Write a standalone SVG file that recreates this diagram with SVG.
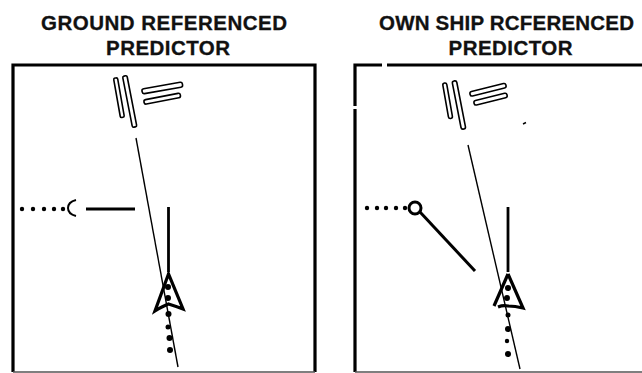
<svg xmlns="http://www.w3.org/2000/svg" width="642" height="373" viewBox="0 0 642 373">
<style>
text{font-family:"Liberation Sans",Arial,sans-serif;font-weight:bold;font-size:20.5px;fill:#111;stroke:#111;stroke-width:.3;text-anchor:middle}
.frame{fill:none;stroke:#000;stroke-width:3.2}
.bar{fill:#fff;stroke:#000;stroke-width:1.6}
.thin{fill:none;stroke:#000;stroke-width:1.4}
.thick{fill:none;stroke:#000;stroke-width:2.8}
.tri{fill:none;stroke:#000;stroke-width:3.2;stroke-linejoin:miter}
.bottom{fill:none;stroke:#555;stroke-width:1.5}
circle.d{fill:#000}
</style>
<rect width="642" height="373" fill="#fff"/>
<g id="ground-panel">
<text x="164" y="30" textLength="246" lengthAdjust="spacing">GROUND REFERENCED</text>
<text x="168" y="55" textLength="124" lengthAdjust="spacing">PREDICTOR</text>
<path class="frame" d="M13 372V65H315V372"/>
<path class="bottom" d="M13 372H315"/>
<rect class="bar" x="-2" y="0" width="4" height="40" rx="1.500" transform="translate(115.500 78) rotate(-10)"/>
<rect class="bar" x="-2" y="0" width="4.500" height="52" rx="1.500" transform="translate(124.500 76) rotate(-11)"/>
<rect class="bar" x="0" y="-2" width="41" height="5" rx="2" transform="translate(142 91) rotate(-10)"/>
<rect class="bar" x="0" y="-2" width="37" height="4.500" rx="2" transform="translate(144 102) rotate(-11)"/>
<path class="thick" d="M168.500 207V272"/>
<path class="tri" d="M168.500 274L155 311Q163 306 168.500 304Q175 306 183 309Z"/>
<circle class="d" cx="22" cy="209" r="2.200"/><circle class="d" cx="33" cy="209" r="2.200"/><circle class="d" cx="44" cy="209" r="2.200"/><circle class="d" cx="54" cy="209" r="2.200"/><circle class="d" cx="63" cy="209" r="2.200"/>
<circle class="d" cx="168" cy="287" r="3"/><circle class="d" cx="168" cy="298" r="3"/><circle class="d" cx="168.500" cy="314" r="3"/><circle class="d" cx="168" cy="327" r="2.500"/><circle class="d" cx="169.500" cy="338" r="3"/><circle class="d" cx="170" cy="350" r="3"/>
<path class="thin" style="stroke-width:2" d="M76 200Q68 202 68 208Q68 214 76 216"/>
</g>
<g id="ownship-panel">
<text x="506.500" y="30" textLength="255" lengthAdjust="spacing">OWN SHIP RCFERENCED</text>
<text x="510.500" y="55" textLength="124" lengthAdjust="spacing">PREDICTOR</text>
<path class="frame" d="M355 372V109M355 106V65H382M387 65H642"/>
<path class="bottom" d="M355 372H642"/>
<rect class="bar" x="-2" y="0" width="4" height="36" rx="2" transform="translate(444.500 83) rotate(-10)"/>
<rect class="bar" x="-2" y="0" width="4.500" height="49" rx="2" transform="translate(454 81) rotate(-11)"/>
<rect class="bar" x="0" y="-2" width="37" height="4.500" rx="2" transform="translate(470 94) rotate(-14)"/>
<rect class="bar" x="0" y="-2" width="34" height="4.500" rx="2" transform="translate(474 103) rotate(-14)"/>
<path d="M523 124L526 122.500" stroke="#000" stroke-width="1.500"/>
<path class="thick" d="M508 207V272"/>
<path class="tri" d="M508 274L494 306M498 307Q503 305 508 306Q515 306 523 308L508 274"/>
<circle cx="415" cy="208" r="6" fill="none" stroke="#000" stroke-width="3"/>
<circle class="d" cx="367" cy="208" r="2.200"/><circle class="d" cx="377" cy="208" r="2.200"/><circle class="d" cx="386" cy="208" r="2.200"/><circle class="d" cx="396" cy="208" r="2.200"/><circle class="d" cx="405" cy="208" r="2.200"/>
<circle class="d" cx="508" cy="288" r="3"/><circle class="d" cx="507" cy="298" r="3"/><circle class="d" cx="508" cy="315" r="2.500"/><circle class="d" cx="508" cy="329" r="3"/><circle class="d" cx="507" cy="341" r="2.200"/><circle class="d" cx="508" cy="354" r="3"/>
</g>
<g id="connectors">
<path class="thin" d="M136 138L178 367"/>
<path class="thick" d="M86 209H135"/>
<path class="thin" d="M468 145L520 369"/>
<path class="thick" style="stroke-width:3" d="M420 212L475 271"/>
</g>
</svg>
